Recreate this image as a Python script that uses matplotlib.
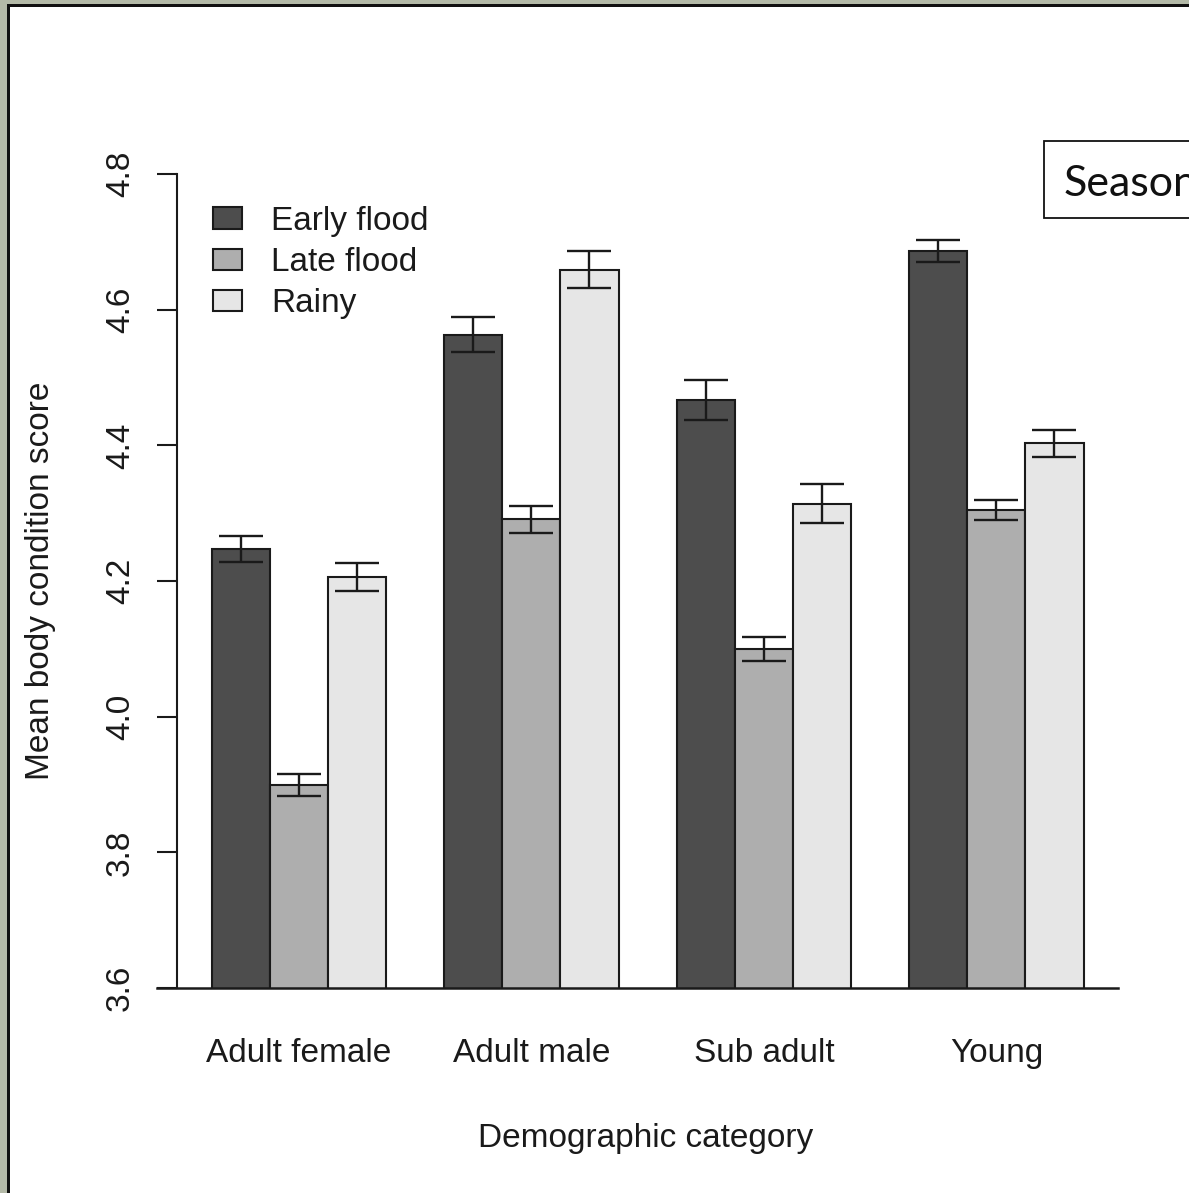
import numpy as np
import matplotlib
matplotlib.use("Agg")
import matplotlib.pyplot as plt
from matplotlib.patches import Rectangle

# mean body condition score by demographic category and season (+/- s.e.)
categories = ["Adult female", "Adult male", "Sub adult", "Young"]
seasons = ["Early flood", "Late flood", "Rainy"]
early_flood = [4.247, 4.563, 4.467, 4.687]
late_flood = [3.899, 4.291, 4.100, 4.305]
rainy = [4.206, 4.659, 4.314, 4.403]
early_se = [0.019, 0.026, 0.029, 0.016]
late_se = [0.016, 0.020, 0.018, 0.015]
rainy_se = [0.021, 0.027, 0.029, 0.020]

colours = ["#4D4D4D", "#AEAEAE", "#E6E6E6"]
ink = "#1a1a1a"

plt.rcParams["font.family"] = ["Liberation Sans", "DejaVu Sans"]
fs = 24

fig = plt.figure(figsize=(11.89, 11.93), dpi=100)
W, H = 1189, 1193

# mossy frame strip + black border on left and top
fig.patches.append(Rectangle((0, 0), 7 / W, 1, transform=fig.transFigure,
                             facecolor="#b4baa8", edgecolor="none", zorder=0))
fig.patches.append(Rectangle((0, 1 - 4 / H), 1, 4 / H, transform=fig.transFigure,
                             facecolor="#b4baa8", edgecolor="none", zorder=0))
fig.patches.append(Rectangle((7 / W, 0), 2.5 / W, 1 - 4 / H, transform=fig.transFigure,
                             facecolor="#111111", edgecolor="none", zorder=1))
fig.patches.append(Rectangle((7 / W, 1 - 6.5 / H), 1, 2.5 / H, transform=fig.transFigure,
                             facecolor="#111111", edgecolor="none", zorder=1))

ax = fig.add_axes([176.8 / W, 1 - 988 / H, 941.6 / W, 814 / H])

# R-style beside barplot: one bar-width gap between groups
vals = [early_flood, late_flood, rainy]
errs = [early_se, late_se, rainy_se]
group_left = np.arange(len(categories)) * 4 + 1
for i, (v, e) in enumerate(zip(vals, errs)):
    x = group_left + i + 0.5
    ax.bar(x, v, width=1.0, color=colours[i], edgecolor=ink, linewidth=1.5,
           label=seasons[i], zorder=2)
    ax.errorbar(x, v, yerr=e, fmt="none", ecolor=ink, elinewidth=1.7,
                capsize=15.5, capthick=1.7, zorder=3)

ax.set_xlim(0.4, 16.6)
ax.set_ylim(3.6, 4.8)
for s in ["top", "right", "bottom"]:
    ax.spines[s].set_visible(False)
ax.spines["left"].set_bounds(3.6, 4.8)
ax.spines["left"].set_linewidth(1.5)
ax.spines["left"].set_color(ink)
ax.axhline(3.6, xmin=-0.021, xmax=1, color=ink, linewidth=1.8, clip_on=False, zorder=4)

ax.set_yticks(np.arange(3.6, 4.81, 0.2))
ax.set_yticklabels([f"{t:.1f}" for t in np.arange(3.6, 4.81, 0.2)],
                   rotation=90, va="center", fontsize=fs, color=ink)
ax.tick_params(axis="y", length=14.4, width=1.5, color=ink, pad=15)

ax.set_xticks(group_left + 1.5)
ax.set_xticklabels(categories, fontsize=fs, color=ink)
ax.tick_params(axis="x", length=0, pad=36)

ax.set_xlabel("Demographic category", fontsize=fs, color=ink)
ax.xaxis.set_label_coords(0.498, -0.166)
ax.xaxis.label.set_va("top")
ax.set_ylabel("Mean body condition score", fontsize=fs, color=ink)
ax.yaxis.set_label_coords(-0.128, 0.5)

ax.legend(loc="upper left", bbox_to_anchor=(0.0384, 0.961), frameon=False,
          fontsize=fs, handlelength=0.87, handleheight=0.6, handletextpad=0.87,
          labelspacing=0.31, borderpad=0, borderaxespad=0, labelcolor=ink)

# "Season" box running off the right edge
fig.patches.append(Rectangle((1044 / W, 1 - 218 / H), 200 / W, 77 / H,
                             transform=fig.transFigure, facecolor="white",
                             edgecolor="#111111", linewidth=1.3, zorder=5))
fig.text(1064 / W, 1 - 196 / H, "Season", fontsize=31, family="Lato",
         color="#111111", va="baseline", ha="left", zorder=6)

fig.savefig("out.png", dpi=100, facecolor="white")
